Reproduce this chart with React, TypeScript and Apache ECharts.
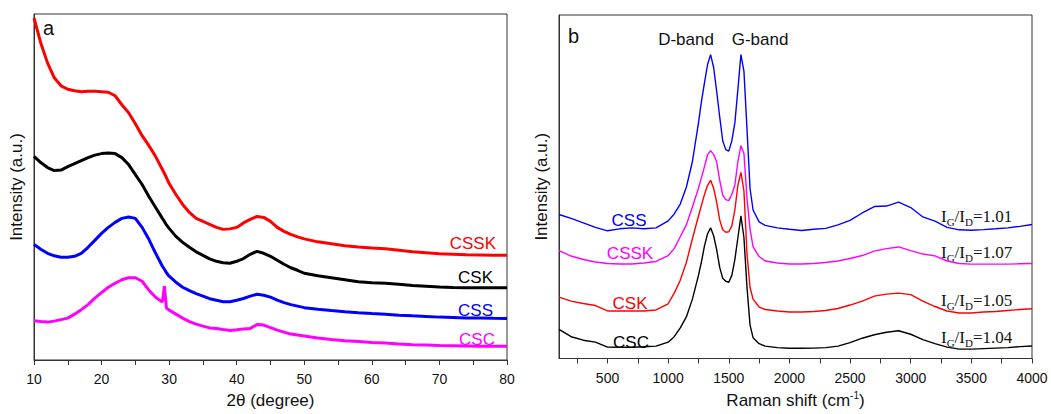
import { useEffect, useRef } from "react";
import * as echarts from "echarts";

// ---- (a) XRD patterns ----
const xrdTheta = [10, 11, 12, 13, 14, 15, 16, 17, 18, 19, 20, 21, 22, 23, 24, 25, 26, 27, 28, 29, 29.3, 29.6, 30, 31, 32, 33, 34, 35, 36, 37, 38, 39, 40, 41, 42, 43, 44, 45, 46, 47, 48, 49, 50, 52, 54, 56, 58, 60, 62, 64, 66, 68, 70, 72, 74, 76, 78, 80];
const xrdCSSK = [343, 318, 298, 283, 275, 271.5, 270, 269, 269.5, 269.5, 269, 268.5, 265, 256, 248, 237, 225, 215, 204, 191, 187, 183, 177, 166, 156, 148, 142, 139, 136, 133, 131, 131.5, 133, 137.5, 141, 144, 143, 139, 133, 129, 126, 123.5, 121.5, 118.5, 116.5, 114.5, 113.3, 112.3, 111.5, 110, 108.5, 107.5, 106.5, 106, 105.5, 105.3, 105, 105];
const xrdCSK = [204.3, 198, 193, 190, 190.5, 194, 197, 200, 203, 205.5, 207, 207.7, 207, 203, 196, 186, 176, 164, 153, 142, 139, 135.5, 132, 124, 118, 113, 108.5, 105, 101.5, 99, 97.5, 97, 99, 101.7, 106, 109, 107, 104, 100, 96, 92.5, 90, 87, 84.5, 82.5, 80.5, 78.5, 77.5, 77, 76, 74.7, 74, 73.3, 72.7, 72.5, 72.5, 72.5, 72.5];
const xrdCSS = [116, 111, 107, 104.5, 103, 103, 104, 107, 113, 120, 127, 133, 138, 142, 143.5, 142, 133, 121, 107, 94, 91, 87.5, 84, 78, 73, 69.5, 66.5, 64, 61.5, 60, 58.5, 58.5, 60, 61.7, 64, 66, 65, 63, 60, 57.5, 55.5, 54, 52.5, 51, 49.7, 48.5, 47.5, 46.7, 46, 45, 44.3, 43.7, 43, 42.6, 42.2, 42, 41.8, 41.7];
const xrdCSC = [39.3, 38.5, 38, 39, 40.5, 42, 46, 50.5, 55.5, 62, 67.5, 73, 77, 80.5, 82.5, 82.5, 79, 70, 63, 58, 74, 52, 50, 46, 42, 38.5, 36, 34, 32.2, 31.5, 30.5, 29.7, 30.3, 31, 31.7, 35.5, 35, 32.5, 30, 28, 26, 25, 24, 22, 20.5, 19.2, 18.5, 17.6, 17, 16, 15.4, 15, 14.5, 14.3, 14.1, 13.9, 13.8, 13.7];
const xrdTicks = [10, 15, 20, 25, 30, 35, 40, 45, 50, 55, 60, 65, 70, 75, 80];
const xrdLabels = [10, 20, 30, 40, 50, 60, 70, 80];

// ---- (b) Raman spectra ----
const ramanShift = [100, 200, 300, 400, 500, 600, 700, 800, 900, 1000, 1050, 1100, 1150, 1200, 1250, 1275, 1300, 1325, 1350, 1375, 1400, 1425, 1450, 1475, 1500, 1525, 1550, 1575, 1600, 1625, 1650, 1675, 1700, 1750, 1800, 1900, 2000, 2100, 2200, 2300, 2400, 2500, 2600, 2700, 2800, 2900, 3000, 3100, 3200, 3300, 3400, 3500, 3600, 3700, 3800, 3900, 4000];
const ramanCSS = [145.5, 141.5, 137, 132.5, 129, 131, 132, 131, 132, 139, 146, 156, 173, 199, 238, 260, 279, 297, 307, 294, 270, 244, 220, 211, 209.5, 220, 238, 272, 307, 290, 232, 172, 150, 138, 134.5, 132, 130.5, 129.3, 130.5, 131.5, 135, 139.5, 147, 153.5, 154, 158, 152.5, 143, 138.7, 132.5, 130, 129.5, 130.2, 131, 132, 133.5, 135.3];
const ramanCSSK = [109, 103.5, 100, 97.5, 96, 95.5, 95.5, 96.5, 98, 104, 111, 123, 135, 153, 172, 183, 194, 206, 210, 206, 198.5, 180, 165, 160.5, 159.5, 166, 175, 199, 215, 207, 162, 131, 113, 103, 98.5, 96.5, 95.5, 95.5, 96, 97, 98.5, 101, 104, 108.5, 111, 112.7, 109, 105.5, 103.7, 98.5, 96, 95.3, 95.3, 95.3, 95.3, 95.7, 96];
const ramanCSK = [62, 58, 55.5, 53.5, 48, 48, 48, 48, 49, 55.3, 66, 79, 97, 121, 144, 155, 166, 175, 180, 172, 158, 140, 130, 127.5, 128, 134, 150, 175, 188, 169, 106, 72, 60, 52, 49.5, 48, 47, 47, 47.5, 48.5, 50.5, 54, 58, 63, 65, 66, 64.5, 58, 52.5, 48, 46, 46, 47, 47.5, 48.5, 49.5, 50.3];
const ramanCSC = [29.5, 22, 18.5, 16.5, 11.5, 11.3, 11.3, 11.8, 12.5, 16.5, 22, 31, 42, 60, 84, 98, 114, 126, 132, 124, 110, 92, 81, 78, 77, 84, 100, 122, 144, 122, 72, 34, 21, 15, 12.5, 11, 10.3, 10.3, 10.5, 11, 12.5, 16, 20.5, 24, 26.5, 28, 24.5, 19, 15, 11.5, 9.5, 9.5, 10, 10.5, 11, 12, 12.7];
const ramanTicks = [250, 500, 750, 1000, 1250, 1500, 1750, 2000, 2250, 2500, 2750, 3000, 3250, 3500, 3750, 4000];
const ramanLabels = [500, 1000, 1500, 2000, 2500, 3000, 3500, 4000];
const ratioLabels = ["1.01", "1.07", "1.05", "1.04"];

const SANS = '"Liberation Sans", Arial, sans-serif';
const SERIF = '"Liberation Serif", "Times New Roman", serif';
const AXIS = "#333";
const RED = "#ff0000";
const BLACK = "#000000";
const BLUE = "#0000ff";
const MAGENTA = "#ff00ff";

const pairs = (xs: number[], ys: number[]) => xs.map((x, i) => [x, ys[i]]);

const lineSeries = (name: string, color: string, idx: number, data: number[][], width: number) => ({
  name,
  type: "line",
  xAxisIndex: idx,
  yAxisIndex: idx,
  data,
  showSymbol: false,
  symbol: "none",
  silent: true,
  lineStyle: { color, width },
  z: 3,
});

const xAxisBase = (gridIndex: number, min: number, max: number, ticks: number[], labels: number[], name: any, rich?: any) => ({
  type: "value",
  gridIndex,
  min,
  max,
  axisLine: { show: true, lineStyle: { color: AXIS, width: 1 } },
  axisTick: { show: true, inside: false, length: 5, customValues: ticks, lineStyle: { color: AXIS } },
  axisLabel: {
    customValues: labels,
    fontSize: 14,
    color: "#111",
    margin: 12,
    fontFamily: SANS,
    formatter: (v: number) => String(v),
  },
  splitLine: { show: false },
  name,
  nameLocation: "middle",
  nameGap: 32,
  nameTextStyle: { fontSize: 17, color: "#111", fontFamily: SANS, rich },
});

const yAxisBase = (gridIndex: number) => ({
  type: "value",
  gridIndex,
  min: 0,
  max: 347,
  axisLine: { show: true, lineStyle: { color: AXIS, width: 1 } },
  axisTick: { show: false },
  axisLabel: { show: false },
  splitLine: { show: false },
  name: "Intensity (a.u.)",
  nameLocation: "middle",
  nameGap: 9,
  nameRotate: 90,
  nameTextStyle: { fontSize: 17, color: "#111", fontFamily: SANS },
});

const txt = (text: string, x: number, y: number, color: string, size: number, align = "left") => ({
  type: "text",
  x,
  y,
  silent: true,
  style: {
    text,
    fill: color,
    fontSize: size,
    fontFamily: SANS,
    align,
    textAlign: align,
    verticalAlign: "middle",
    textVerticalAlign: "middle",
  },
});

const ratioText = (value: string, x: number, y: number) => ({
  type: "text",
  x,
  y,
  silent: true,
  style: {
    text: `{m|I}{s|G}{m|/I}{s|D}{m|=${value}}`,
    align: "left",
    verticalAlign: "middle",
    rich: {
      m: { fontSize: 17, fontFamily: SERIF, fill: "#111", lineHeight: 20 },
      s: { fontSize: 11, fontFamily: SERIF, fill: "#111", lineHeight: 11, padding: [12, 0, 0, 0] },
    },
  },
});

const option = {
  animation: false,
  backgroundColor: "#ffffff",
  grid: [
    { left: 34, top: 14, width: 473, height: 347, show: true, borderColor: AXIS, borderWidth: 1, backgroundColor: "transparent" },
    { left: 559, top: 15, width: 473, height: 347, show: true, borderColor: AXIS, borderWidth: 1, backgroundColor: "transparent" },
  ],
  xAxis: [
    xAxisBase(0, 10, 80, xrdTicks, xrdLabels, "2θ (degree)"),
    xAxisBase(1, 100, 4000, ramanTicks, ramanLabels, "{a|Raman shift (cm}{b|-1}{a|)}", {
      a: { fontSize: 17, color: "#111", fontFamily: SANS },
      b: { fontSize: 10, color: "#111", fontFamily: SANS, padding: [0, 0, 10, 0] },
    }),
  ],
  yAxis: [yAxisBase(0), yAxisBase(1)],
  series: [
    lineSeries("CSSK", RED, 0, pairs(xrdTheta, xrdCSSK), 3),
    lineSeries("CSK", BLACK, 0, pairs(xrdTheta, xrdCSK), 3),
    lineSeries("CSS", BLUE, 0, pairs(xrdTheta, xrdCSS), 3),
    lineSeries("CSC", MAGENTA, 0, pairs(xrdTheta, xrdCSC), 3),
    lineSeries("CSS", BLUE, 1, pairs(ramanShift, ramanCSS), 1.4),
    lineSeries("CSSK", MAGENTA, 1, pairs(ramanShift, ramanCSSK), 1.4),
    lineSeries("CSK", RED, 1, pairs(ramanShift, ramanCSK), 1.4),
    lineSeries("CSC", BLACK, 1, pairs(ramanShift, ramanCSC), 1.4),
  ],
  graphic: [
    txt("a", 43, 28, "#111", 20),
    txt("b", 568, 36, "#111", 20),
    txt("CSSK", 496, 243, RED, 17, "right"),
    txt("CSK", 493, 277, BLACK, 17, "right"),
    txt("CSS", 493, 310, BLUE, 17, "right"),
    txt("CSC", 495, 339, MAGENTA, 17, "right"),
    txt("D-band", 686, 39, "#111", 17, "center"),
    txt("G-band", 760, 39, "#111", 17, "center"),
    txt("CSS", 629, 220, BLUE, 17, "center"),
    txt("CSSK", 630, 253, MAGENTA, 17, "center"),
    txt("CSK", 630, 303, RED, 17, "center"),
    txt("CSC", 631, 342, BLACK, 17, "center"),
    ratioText(ratioLabels[0], 941, 216),
    ratioText(ratioLabels[1], 941, 252),
    ratioText(ratioLabels[2], 941, 300),
    ratioText(ratioLabels[3], 941, 337),
  ],
};

export default function App() {
  const ref = useRef<HTMLDivElement>(null);
  useEffect(() => {
    const chart = echarts.init(ref.current!, null, { renderer: "svg" });
    chart.setOption(option as any);
    return () => chart.dispose();
  }, []);
  return (
    <div
      ref={ref}
      style={{ position: "absolute", left: 0, top: 0, width: 1051, height: 414, background: "#fff" }}
    />
  );
}
